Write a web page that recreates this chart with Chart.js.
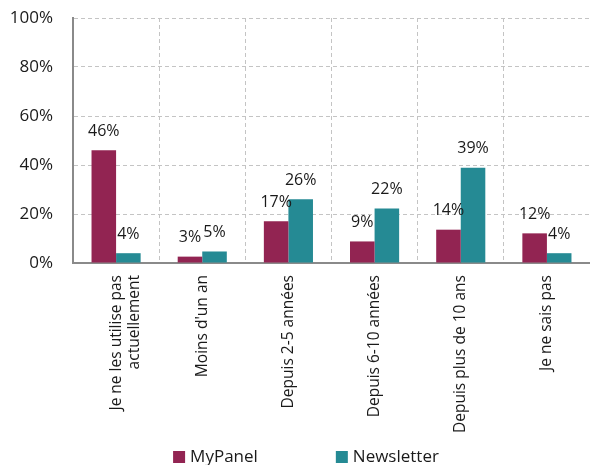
<!DOCTYPE html>
<html>
<head>
<meta charset="utf-8">
<script src="https://cdn.jsdelivr.net/npm/chart.js@4.4.1/dist/chart.umd.min.js"></script>
<style>
html,body{margin:0;padding:0;background:#fff;}
#wrap{width:590px;height:465px;position:relative;}
</style>
</head>
<body>
<div id="wrap"><canvas id="c" width="590" height="465"></canvas></div>
<script>
const categories = [
  ["Je ne les utilise pas", "actuellement"],
  "Moins d'un an",
  "Depuis 2-5 années",
  "Depuis 6-10 années",
  "Depuis plus de 10 ans",
  "Je ne sais pas"
];
const seriesNames = ["MyPanel", "Newsletter"];
const myPanel = [46, 2.6, 17, 8.8, 13.6, 12.1];
const newsletter = [4, 4.7, 26, 22.2, 38.9, 4];
const yTicks = [0, 20, 40, 60, 80, 100];
const colors = ["#922452", "#258A94"];

const FONT = "'Open Sans', 'Noto Sans', sans-serif";

const valueLabels = {
  id: 'valueLabels',
  afterDatasetsDraw(chart) {
    const ctx = chart.ctx;
    ctx.save();
    ctx.font = "16px " + FONT;
    ctx.fillStyle = "#1a1a1a";
    ctx.textAlign = "center";
    ctx.textBaseline = "middle";
    chart.data.datasets.forEach((ds, di) => {
      const meta = chart.getDatasetMeta(di);
      meta.data.forEach((bar, i) => {
        ctx.fillText(Math.round(ds.data[i]) + "%", bar.x, bar.y - 19);
      });
    });
    ctx.restore();
  }
};

const customLegend = {
  id: 'customLegend',
  afterDraw(chart) {
    const ctx = chart.ctx;
    ctx.save();
    ctx.font = "17px " + FONT;
    ctx.textBaseline = "middle";
    const box = 12, gapText = 5, gapItems = 78;
    const items = chart.data.datasets.map(ds => ({
      text: ds.label, color: ds.backgroundColor,
      w: box + gapText + ctx.measureText(ds.label).width
    }));
    const total = items.reduce((s, it) => s + it.w, 0) + gapItems * (items.length - 1);
    let x = 306 - total / 2;
    const y = 457;
    items.forEach(it => {
      ctx.fillStyle = it.color;
      ctx.fillRect(x, y - box / 2, box, box);
      ctx.fillStyle = "#1a1a1a";
      ctx.fillText(it.text, x + box + gapText, y);
      x += it.w + gapItems;
    });
    ctx.restore();
  }
};

new Chart(document.getElementById('c'), {
  type: 'bar',
  data: {
    labels: categories,
    datasets: [
      { label: seriesNames[0], data: myPanel, backgroundColor: colors[0] },
      { label: seriesNames[1], data: newsletter, backgroundColor: colors[1] }
    ]
  },
  options: {
    responsive: false,
    animation: false,
    devicePixelRatio: 1,
    layout: { padding: { top: 18, right: 0, bottom: 0, left: 0 } },
    plugins: { legend: { display: false }, tooltip: { enabled: false } },
    datasets: { bar: { categoryPercentage: 0.57, barPercentage: 1.0 } },
    scales: {
      x: {
        afterFit(scale) { scale.height = 202; },
        grid: { display: true, offset: true, color: '#c4c4c4', drawTicks: false },
        border: { display: true, color: '#8a8a8a', width: 2, dash: [4, 3] },
        ticks: {
          color: '#1a1a1a',
          font: { family: FONT, size: 15.5 },
          minRotation: 90, maxRotation: 90,
          padding: 12,
          autoSkip: false
        }
      },
      y: {
        min: 0, max: 100,
        afterFit(scale) { scale.width = 73; scale.paddingTop = 0; scale.paddingBottom = 0; },
        afterBuildTicks(scale) { scale.ticks = yTicks.map(v => ({ value: v })); },
        grid: { color: '#c4c4c4', drawTicks: false },
        border: { display: true, color: '#8a8a8a', width: 2, dash: [4, 3] },
        ticks: {
          color: '#1a1a1a',
          font: { family: FONT, size: 17 },
          padding: 20,
          callback: v => v + '%'
        }
      }
    }
  },
  plugins: [valueLabels, customLegend]
});
</script>
</body>
</html>
